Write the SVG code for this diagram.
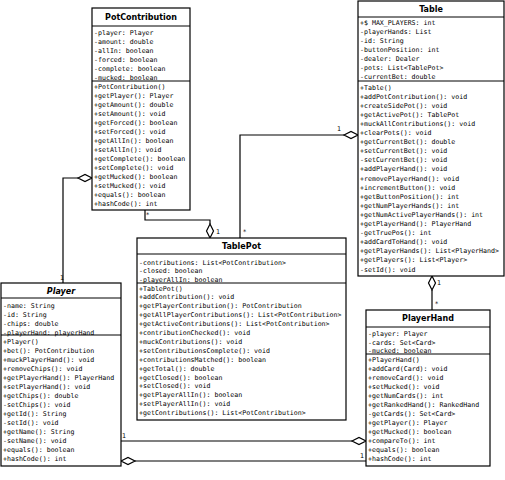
<svg xmlns="http://www.w3.org/2000/svg" width="505" height="480" viewBox="0 0 505 480">
<style>
.box{fill:#fff;stroke:#000;stroke-width:1.2}
.sep{stroke:#000;stroke-width:1}
.t{font-family:"DejaVu Sans","Liberation Sans",sans-serif;font-weight:bold;font-size:8px;text-anchor:middle}
.m{font-family:"DejaVu Sans Mono","Liberation Mono",monospace;font-size:6.6px}
.c{fill:none;stroke:#000;stroke-width:1.2}
.d{fill:#fff;stroke:#000;stroke-width:1.2}
.l{font-family:"DejaVu Sans","Liberation Sans",sans-serif;font-size:6.5px}
</style>
<rect width="505" height="480" fill="#fff"/>
<g id="connectors">
<path class="c" d="M63,283 V178 H78"/>
<polygon class="d" points="78,178 85,174.5 92,178 85,181.5"/>
<text class="l" x="60" y="280">1</text>
<path class="c" d="M145,210 V220 H210 V224"/>
<polygon class="d" points="210,224 213.5,231 210,238 206.5,231"/>
<text class="l" x="146" y="217">*</text>
<text class="l" x="216" y="234">1</text>
<path class="c" d="M240,238 V135 H344"/>
<polygon class="d" points="344,135 351,131.5 358,135 351,138.5"/>
<text class="l" x="243" y="234">*</text>
<text class="l" x="337" y="131">1</text>
<path class="c" d="M432,290 V310"/>
<polygon class="d" points="432,276 435.5,283 432,290 428.5,283"/>
<text class="l" x="437" y="285">1</text>
<text class="l" x="435" y="306">*</text>
<path class="c" d="M121,441 H352"/>
<polygon class="d" points="352,441 359,437.5 366,441 359,444.5"/>
<text class="l" x="122" y="438">1</text>
<path class="c" d="M135,461 H366"/>
<polygon class="d" points="121,461 128,457.5 135,461 128,464.5"/>
<text class="l" x="360" y="458">1</text>
</g>
<g id="PotContribution">
<rect class="box" x="92" y="8" width="98" height="202"/>
<line class="sep" x1="92" y1="26" x2="190" y2="26"/>
<line class="sep" x1="92" y1="81" x2="190" y2="81"/>
<text class="t" x="141" y="20">PotContribution</text>
<text class="m" x="94">
<tspan x="94" y="34.5">-player: Player</tspan>
<tspan x="94" y="43.5">-amount: double</tspan>
<tspan x="94" y="52.5">-allIn: boolean</tspan>
<tspan x="94" y="61.5">-forced: boolean</tspan>
<tspan x="94" y="70.5">-complete: boolean</tspan>
<tspan x="94" y="79.5">-mucked: boolean</tspan>
</text>
<text class="m">
<tspan x="94" y="88.5">+PotContribution()</tspan>
<tspan x="94" y="97.5">+getPlayer(): Player</tspan>
<tspan x="94" y="106.6">+getAmount(): double</tspan>
<tspan x="94" y="115.6">+setAmount(): void</tspan>
<tspan x="94" y="124.7">+getForced(): boolean</tspan>
<tspan x="94" y="133.7">+setForced(): void</tspan>
<tspan x="94" y="142.8">+getAllIn(): boolean</tspan>
<tspan x="94" y="151.8">+setAllIn(): void</tspan>
<tspan x="94" y="160.9">+getComplete(): boolean</tspan>
<tspan x="94" y="169.9">+setComplete(): void</tspan>
<tspan x="94" y="179">+getMucked(): boolean</tspan>
<tspan x="94" y="188">+setMucked(): void</tspan>
<tspan x="94" y="197.1">+equals(): boolean</tspan>
<tspan x="94" y="206.1">+hashCode(): int</tspan>
</text>
</g>
<g id="Table">
<rect class="box" x="358" y="1" width="146" height="275"/>
<line class="sep" x1="358" y1="17" x2="504" y2="17"/>
<line class="sep" x1="358" y1="81" x2="504" y2="81"/>
<text class="t" x="431" y="12">Table</text>
<text class="m">
<tspan x="360" y="24.5">+$ MAX_PLAYERS: int</tspan>
<tspan x="360" y="33.6">-playerHands: List</tspan>
<tspan x="360" y="42.7">-id: String</tspan>
<tspan x="360" y="51.8">-buttonPosition: int</tspan>
<tspan x="360" y="60.9">-dealer: Dealer</tspan>
<tspan x="360" y="70">-pots: List&lt;TablePot&gt;</tspan>
<tspan x="360" y="79.1">-currentBet: double</tspan>
</text>
<text class="m">
<tspan x="360" y="89.5">+Table()</tspan>
<tspan x="360" y="98.6">+addPotContribution(): void</tspan>
<tspan x="360" y="107.7">+createSidePot(): void</tspan>
<tspan x="360" y="116.8">+getActivePot(): TablePot</tspan>
<tspan x="360" y="125.9">+muckAllContributions(): void</tspan>
<tspan x="360" y="135">+clearPots(): void</tspan>
<tspan x="360" y="144.1">+getCurrentBet(): double</tspan>
<tspan x="360" y="153.2">+setCurrentBet(): void</tspan>
<tspan x="360" y="162.3">-setCurrentBet(): void</tspan>
<tspan x="360" y="171.4">+addPlayerHand(): void</tspan>
<tspan x="360" y="180.5">+removePlayerHand(): void</tspan>
<tspan x="360" y="189.6">+incrementButton(): void</tspan>
<tspan x="360" y="198.7">+getButtonPosition(): int</tspan>
<tspan x="360" y="207.8">+getNumPlayerHands(): int</tspan>
<tspan x="360" y="216.9">+getNumActivePlayerHands(): int</tspan>
<tspan x="360" y="226">+getPlayerHand(): PlayerHand</tspan>
<tspan x="360" y="235.1">-getTruePos(): int</tspan>
<tspan x="360" y="244.2">+addCardToHand(): void</tspan>
<tspan x="360" y="253.3">+getPlayerHands(): List&lt;PlayerHand&gt;</tspan>
<tspan x="360" y="262.4">+getPlayers(): List&lt;Player&gt;</tspan>
<tspan x="360" y="271.5">-setId(): void</tspan>
</text>
</g>
<g id="TablePot">
<rect class="box" x="137" y="238" width="209" height="182"/>
<line class="sep" x1="137" y1="254" x2="346" y2="254"/>
<line class="sep" x1="137" y1="283" x2="346" y2="283"/>
<text class="t" x="241.5" y="249">TablePot</text>
<text class="m">
<tspan x="139" y="264.5">-contributions: List&lt;PotContribution&gt;</tspan>
<tspan x="139" y="273.3">-closed: boolean</tspan>
<tspan x="139" y="282">-playerAllIn: boolean</tspan>
</text>
<text class="m">
<tspan x="139" y="290.5">+TablePot()</tspan>
<tspan x="139" y="299.4">+addContribution(): void</tspan>
<tspan x="139" y="308.3">+getPlayerContribution(): PotContribution</tspan>
<tspan x="139" y="317.2">+getAllPlayerContributions(): List&lt;PotContribution&gt;</tspan>
<tspan x="139" y="326.1">+getActiveContributions(): List&lt;PotContribution&gt;</tspan>
<tspan x="139" y="335">+contributionChecked(): void</tspan>
<tspan x="139" y="343.9">+muckContributions(): void</tspan>
<tspan x="139" y="352.8">+setContributionsComplete(): void</tspan>
<tspan x="139" y="361.7">+contributionsMatched(): boolean</tspan>
<tspan x="139" y="370.6">+getTotal(): double</tspan>
<tspan x="139" y="379.5">+getClosed(): boolean</tspan>
<tspan x="139" y="388.4">+setClosed(): void</tspan>
<tspan x="139" y="397.3">+getPlayerAllIn(): boolean</tspan>
<tspan x="139" y="406.2">+setPlayerAllIn(): void</tspan>
<tspan x="139" y="415.1">+getContributions(): List&lt;PotContribution&gt;</tspan>
</text>
</g>
<g id="Player">
<rect class="box" x="1" y="283" width="120" height="183"/>
<line class="sep" x1="1" y1="298" x2="121" y2="298"/>
<line class="sep" x1="1" y1="335" x2="121" y2="335"/>
<text class="t" x="61" y="293.5" font-style="italic">Player</text>
<text class="m">
<tspan x="3" y="308">-name: String</tspan>
<tspan x="3" y="317">-id: String</tspan>
<tspan x="3" y="326">-chips: double</tspan>
<tspan x="3" y="334.5">-playerHand: playerHand</tspan>
</text>
<text class="m">
<tspan x="3" y="343.5">+Player()</tspan>
<tspan x="3" y="352.5">+bet(): PotContribution</tspan>
<tspan x="3" y="361.5">+muckPlayerHand(): void</tspan>
<tspan x="3" y="370.5">+removeChips(): void</tspan>
<tspan x="3" y="379.5">+getPlayerHand(): PlayerHand</tspan>
<tspan x="3" y="388.5">+setPlayerHand(): void</tspan>
<tspan x="3" y="397.5">+getChips(): double</tspan>
<tspan x="3" y="406.5">-setChips(): void</tspan>
<tspan x="3" y="415.5">+getId(): String</tspan>
<tspan x="3" y="424.5">-setId(): void</tspan>
<tspan x="3" y="433.5">+getName(): String</tspan>
<tspan x="3" y="442.5">-setName(): void</tspan>
<tspan x="3" y="451.5">+equals(): boolean</tspan>
<tspan x="3" y="460.5">+hashCode(): int</tspan>
</text>
</g>
<g id="PlayerHand">
<rect class="box" x="366" y="310" width="124" height="156"/>
<line class="sep" x1="366" y1="327" x2="490" y2="327"/>
<line class="sep" x1="366" y1="354" x2="490" y2="354"/>
<text class="t" x="428" y="321">PlayerHand</text>
<text class="m">
<tspan x="368" y="335.5">-player: Player</tspan>
<tspan x="368" y="344.5">-cards: Set&lt;Card&gt;</tspan>
<tspan x="368" y="353">-mucked: boolean</tspan>
</text>
<text class="m">
<tspan x="368" y="361.5">+PlayerHand()</tspan>
<tspan x="368" y="370.5">+addCard(Card): void</tspan>
<tspan x="368" y="379.5">+removeCard(): void</tspan>
<tspan x="368" y="388.5">+setMucked(): void</tspan>
<tspan x="368" y="397.5">+getNumCards(): int</tspan>
<tspan x="368" y="406.5">+getRankedHand(): RankedHand</tspan>
<tspan x="368" y="415.5">-getCards(): Set&lt;Card&gt;</tspan>
<tspan x="368" y="424.5">+getPlayer(): Player</tspan>
<tspan x="368" y="433.5">+getMucked(): boolean</tspan>
<tspan x="368" y="442.5">+compareTo(): int</tspan>
<tspan x="368" y="451.5">+equals(): boolean</tspan>
<tspan x="368" y="460.5">+hashCode(): int</tspan>
</text>
</g>
</svg>
